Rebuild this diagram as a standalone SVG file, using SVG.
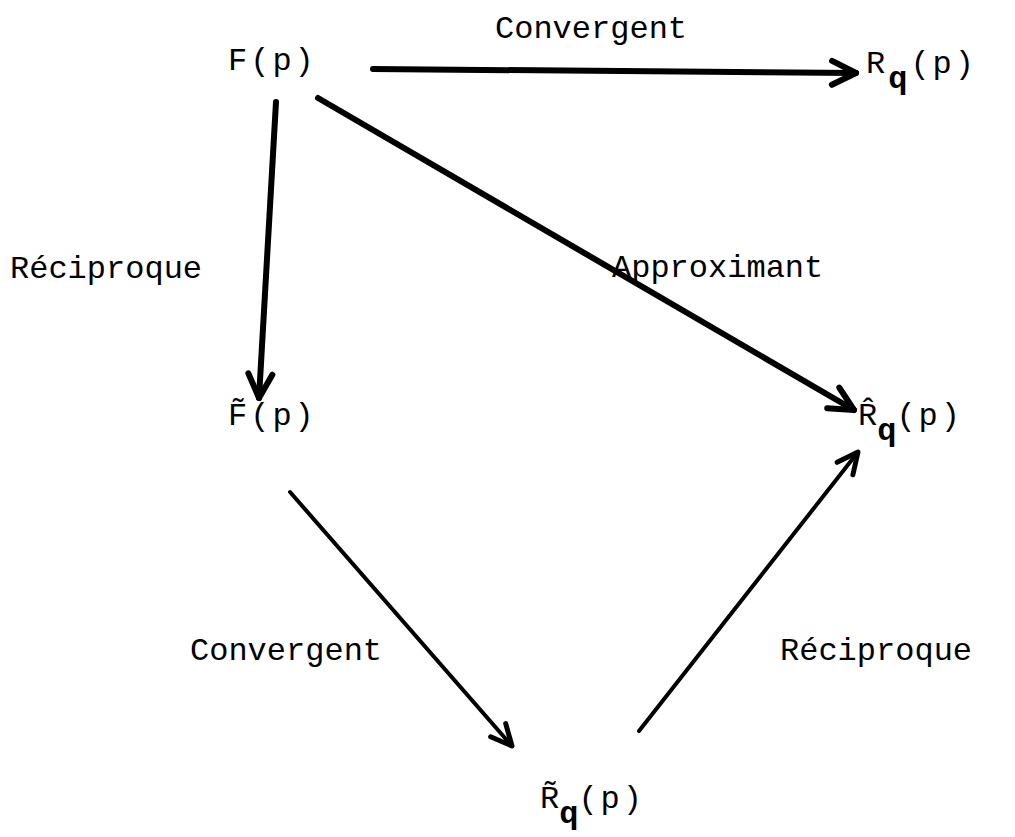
<svg xmlns="http://www.w3.org/2000/svg" width="1015" height="837" viewBox="0 0 1015 837">
<style>
text{font-family:"Liberation Mono","Courier New",monospace;font-size:32px;fill:#000}
.n{letter-spacing:3px}
.sub{font-weight:bold}
.c{fill:none;stroke:#000;stroke-linecap:round}
.thick{stroke-width:6}
.thin{stroke-width:4}
</style>
<defs>
<marker id="ah" markerUnits="userSpaceOnUse" orient="auto" refX="0" refY="0" markerWidth="40" markerHeight="40" viewBox="-30 -20 40 40" overflow="visible">
<path d="M-24,-12 L0,0 L-24,12" fill="none" stroke="#000" stroke-width="6" stroke-linecap="round" stroke-linejoin="round"/>
</marker>
<marker id="ah2" markerUnits="userSpaceOnUse" orient="auto" refX="0" refY="0" markerWidth="40" markerHeight="40" viewBox="-30 -20 40 40" overflow="visible">
<path d="M-21,-10 L0,0 L-21,10" fill="none" stroke="#000" stroke-width="5" stroke-linecap="round" stroke-linejoin="round"/>
</marker>
</defs>
<g id="connectors">
<line class="c thick" x1="373" y1="69" x2="856" y2="73" marker-end="url(#ah)"/>
<line class="c thick" x1="276" y1="102" x2="259" y2="398" marker-end="url(#ah)"/>
<line class="c thick" x1="318" y1="98" x2="854" y2="410" marker-end="url(#ah)"/>
<line class="c thin" x1="290" y1="492" x2="512" y2="746" marker-end="url(#ah2)"/>
<line class="c thin" x1="639" y1="731" x2="858" y2="452" marker-end="url(#ah2)"/>
</g>
<g id="label-convergent-top"><text x="495" y="38">Convergent</text></g>
<g id="label-reciproque-left"><text x="10" y="278">Réciproque</text></g>
<g id="label-approximant"><text x="612" y="277">Approximant</text></g>
<g id="label-convergent-bottom"><text x="190" y="660">Convergent</text></g>
<g id="label-reciproque-right"><text x="780" y="660">Réciproque</text></g>
<g id="node-F"><text class="n" x="228" y="70">F(p)</text></g>
<g id="node-Rq"><text class="n" x="866" y="73">R<tspan class="sub" dy="15">q</tspan><tspan dy="-15">(p)</tspan></text></g>
<g id="node-Ftilde"><text class="n" x="228" y="425">F&#x303;(p)</text></g>
<g id="node-Rhat"><text x="858" y="425">R&#x302;<tspan class="sub" dy="15">q</tspan><tspan dy="-15" class="n">(p)</tspan></text></g>
<g id="node-Rtilde"><text x="540" y="808">R&#x303;<tspan class="sub" dy="15">q</tspan><tspan dy="-15" class="n">(p)</tspan></text></g>
</svg>
